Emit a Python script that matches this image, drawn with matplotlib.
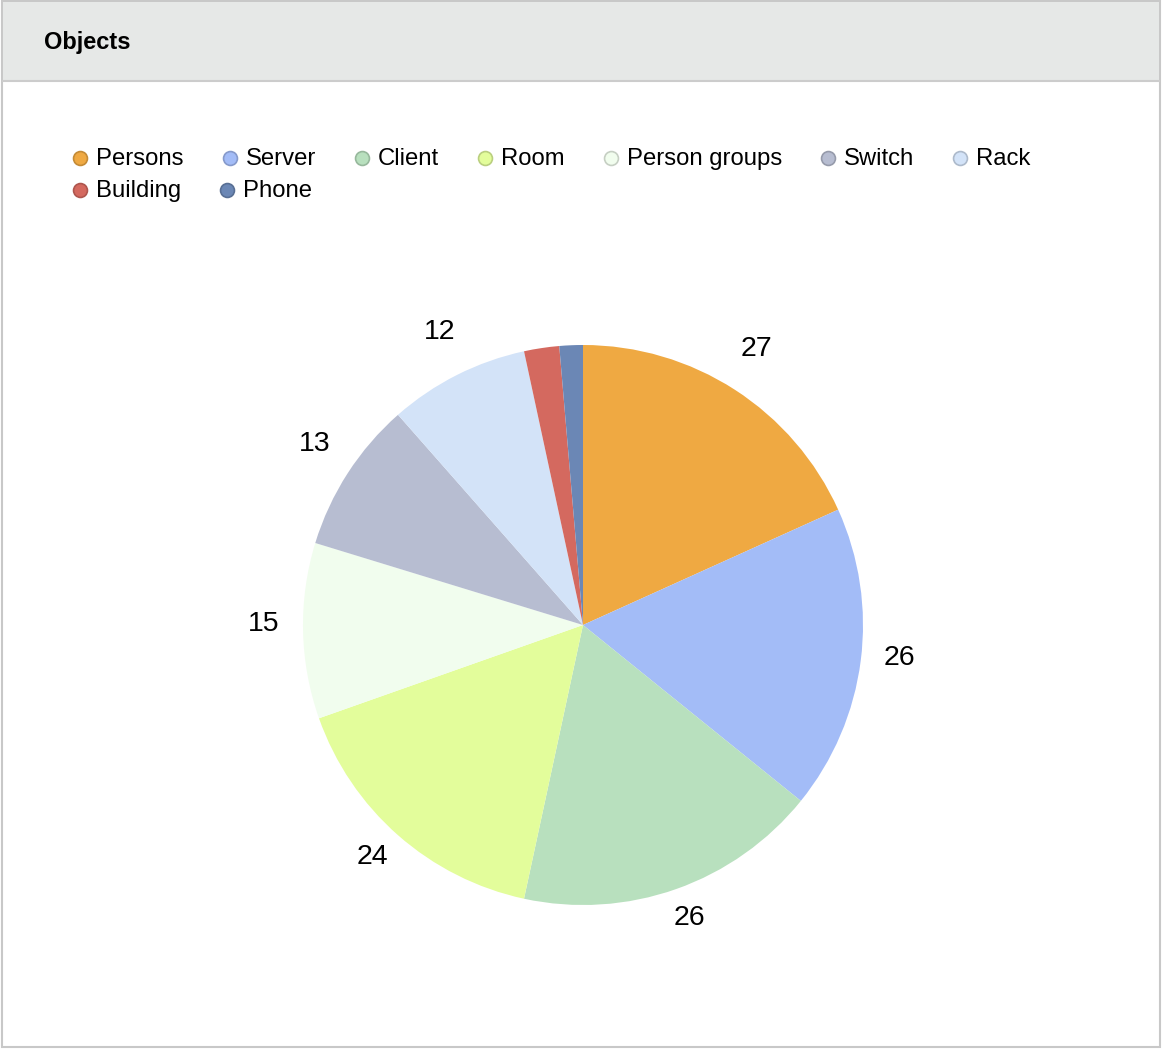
import matplotlib
matplotlib.use('Agg')
import matplotlib.pyplot as plt
import matplotlib.colors as mcolors
from matplotlib.lines import Line2D
from matplotlib.patches import Rectangle

# Data
categories = ["Persons", "Server", "Client", "Room", "Person groups",
              "Switch", "Rack", "Building", "Phone"]
values = [27, 26, 26, 24, 15, 13, 12, 3, 2]
colors = ["#efa942", "#a3bcf7", "#b8e0be", "#e3fd9b", "#f1fdee",
          "#b7bdd1", "#d3e3f8", "#d4695f", "#6b87b5"]
title = "Objects"

W, H = 1162, 1050
plt.rcParams['font.family'] = ['Liberation Sans', 'DejaVu Sans']
fig = plt.figure(figsize=(W / 100, H / 100), dpi=100)


def fx(x):
    return x / W


def fy(y):
    return 1 - y / H


def darker(c, f=0.82):
    r, g, b = mcolors.to_rgb(c)
    return (r * f, g * f, b * f)


# panel frame and header band
fig.patches.append(Rectangle((fx(2), fy(1047)), fx(1160) - fx(2), fy(1) - fy(1047),
                             transform=fig.transFigure, facecolor='white',
                             edgecolor='#c8c8c8', lw=1.5, zorder=-2))
fig.patches.append(Rectangle((fx(3), fy(80)), fx(1159) - fx(3), fy(2) - fy(80),
                             transform=fig.transFigure, facecolor='#e6e8e7',
                             edgecolor='none', zorder=-1))
fig.add_artist(Line2D([fx(3), fx(1159)], [fy(81), fy(81)], color='#cccccc', lw=1.5,
                      transform=fig.transFigure))
fig.text(fx(44), fy(43), title, fontsize=17, fontweight='bold', va='center')

# pie
ax = fig.add_axes([fx(303), fy(905), 560 / W, 560 / H])
ax.set_zorder(5)
total = sum(values)
wedges, texts, autotexts = ax.pie(
    values, colors=colors, startangle=90, counterclock=False, radius=1,
    wedgeprops=dict(linewidth=0),
    autopct=lambda p: f'{p * total / 100:.0f}' if p > 3 else '',
    pctdistance=1.14, textprops=dict(fontsize=20.5, color='black', va='center'))
# nudge value labels up a little, html renderers center on the glyph box
for t in autotexts:
    tx, ty = t.get_position()
    t.set_position((tx, ty + 0.028))
ax.set_xlim(-1, 1)
ax.set_ylim(-1, 1)
ax.set_aspect('equal')
ax.axis('off')

# legend laid out like a flowing html legend
fig.canvas.draw()
renderer = fig.canvas.get_renderer()
x, y = 80, 159
for name, c in zip(categories, colors):
    t = fig.text(fx(x + 16), fy(y), name, fontsize=17.2, va='center')
    w = t.get_window_extent(renderer).width
    if x + 16 + w > 1080:
        x, y = 80, y + 32
        t.set_position((fx(x + 16), fy(y)))
    fig.add_artist(Line2D([fx(x)], [fy(y - 1)], marker='o', ms=10, mfc=c,
                          mec=darker(c), mew=1.2, transform=fig.transFigure))
    x = x + 16 + w + 46

fig.savefig('out.png', dpi=100)
